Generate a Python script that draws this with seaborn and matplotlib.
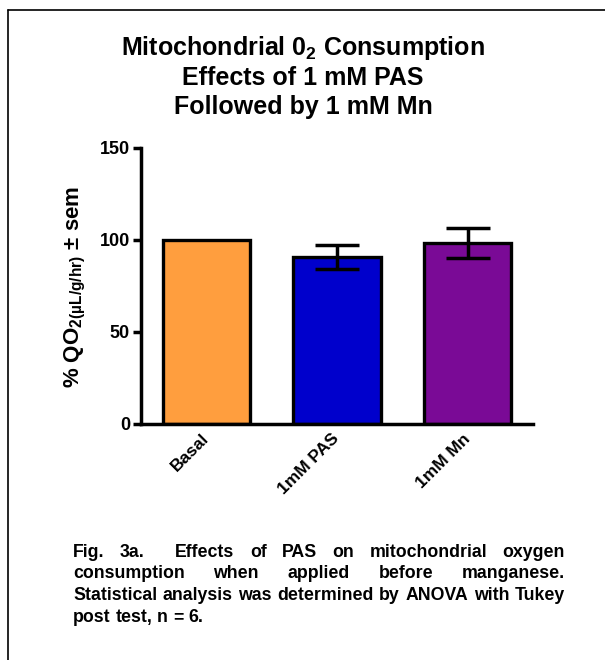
import matplotlib
matplotlib.use('Agg')
import matplotlib.pyplot as plt
import seaborn as sns
import pandas as pd
from matplotlib.lines import Line2D
from matplotlib.transforms import IdentityTransform

# ---------------- data ----------------
categories = ['Basal', '1mM PAS', '1mM Mn']
means = [100.0, 90.8, 98.3]
sems = [0.0, 6.5, 8.2]
colors = ['#FF9E3E', '#0000CC', '#7A0A96']
yticks = [0, 50, 100, 150]
title_lines = ['Mitochondrial 0$_{2}$ Consumption',
               'Effects of 1 mM PAS',
               'Followed by 1 mM Mn']
ylabel = '% QO$_{2(µL/g/hr)}$ ± sem'
caption_lines = ['Fig. 3a.  Effects of PAS on mitochondrial oxygen',
                 'consumption when applied before manganese.',
                 'Statistical analysis was determined by ANOVA with Tukey',
                 'post test, n = 6.']
caption_justify = [True, True, True, False]

# ---------------- style ----------------
sns.set_theme(style='white')
plt.rcParams['font.family'] = ['Liberation Sans', 'DejaVu Sans']
plt.rcParams['font.weight'] = 'bold'
plt.rcParams['text.color'] = 'black'
plt.rcParams['axes.labelcolor'] = 'black'
plt.rcParams['xtick.color'] = 'black'
plt.rcParams['ytick.color'] = 'black'
plt.rcParams['mathtext.fontset'] = 'custom'
plt.rcParams['mathtext.rm'] = 'Liberation Sans:bold'
plt.rcParams['mathtext.it'] = 'Liberation Sans:bold'
plt.rcParams['mathtext.bf'] = 'Liberation Sans:bold'
plt.rcParams['mathtext.sf'] = 'Liberation Sans:bold'

W, H, DPI = 605, 660, 100
fig = plt.figure(figsize=(W / DPI, H / DPI), dpi=DPI)
fig.patch.set_facecolor('white')

def px(x, y):
    return x, H - y

# axes placement (pixels in image coords)
ax_l, ax_r, ax_t, ax_b = 141, 533, 148, 424
ax = fig.add_axes([ax_l / W, 1 - ax_b / H, (ax_r - ax_l) / W, (ax_b - ax_t) / H])

df = pd.DataFrame({'cat': categories, 'val': means, 'sem': sems})
sns.barplot(data=df, x='cat', y='val', hue='cat', palette=colors, legend=False,
            edgecolor='black', linewidth=2.4, width=0.67, saturation=1, ax=ax)
sub = df[df['sem'] > 0]
ax.errorbar(x=sub.index.values, y=sub['val'], yerr=sub['sem'], fmt='none',
            ecolor='black', elinewidth=2.5, capsize=16, capthick=2.5, zorder=5)

ax.set_xlim(-0.5, 2.5)
ax.set_ylim(0, 150)
ax.set_yticks(yticks)
ax.set_yticklabels([str(v) for v in yticks], fontsize=13, fontweight='bold')
ax.set_xlabel('')
ax.set_ylabel('')
ax.set_xticks(range(len(categories)))
ax.set_xticklabels(categories, rotation=45, ha='right', va='center',
                   rotation_mode='anchor', fontsize=12.5, fontweight='bold')
ax.tick_params(axis='x', length=0, pad=9)
ax.tick_params(axis='y', length=6, width=2.5, pad=2, left=True, color='black')
for s in ['top', 'right']:
    ax.spines[s].set_visible(False)
for s in ['left', 'bottom']:
    ax.spines[s].set_linewidth(2.5)
    ax.spines[s].set_color('black')
ax.spines['left'].set_capstyle('projecting')
ax.set_facecolor('white')

# y label
fig.text(*px(75, 287), ylabel, rotation=90, ha='center', va='center',
         fontsize=16, fontweight='bold', transform=IdentityTransform())

# title
for line, yb in zip(title_lines, [55, 85, 114]):
    fig.text(*px(303, yb), line, ha='center', va='baseline', fontsize=18,
             fontweight='bold', transform=IdentityTransform())

# border (only top and left visible in the frame)
fig.add_artist(Line2D([8 / W, 8 / W], [0, 1 - 10 / H], color='black', lw=1.2,
                      transform=fig.transFigure))
fig.add_artist(Line2D([8 / W, 1], [1 - 10 / H, 1 - 10 / H], color='black', lw=1.2,
                      transform=fig.transFigure))

# caption, justified; font size chosen so the fullest line fits the text block
fig.canvas.draw()
renderer = fig.canvas.get_renderer()
cx0, cx1 = 73, 565
probe = fig.text(0, 0, caption_lines[2], fontsize=10, fontweight='bold')
cap_fs = 10 * (cx1 - cx0) / probe.get_window_extent(renderer).width * 0.985
probe.remove()
for line, yb, just in zip(caption_lines, [557, 578, 600, 622], caption_justify):
    tokens = line.split(' ')
    words, weights = [], []
    pending = 0
    for t in tokens:
        if t == '':
            pending += 1
            continue
        if words:
            weights.append(1 + pending)
        pending = 0
        words.append(t)
    texts = [fig.text(*px(0, yb), w, ha='left', va='baseline', fontsize=cap_fs,
                      fontweight='bold', transform=IdentityTransform()) for w in words]
    widths = [t.get_window_extent(renderer).width for t in texts]
    if just and len(words) > 1:
        gap = (cx1 - cx0 - sum(widths)) / sum(weights)
    else:
        sp = fig.text(0, 0, 'a a', fontsize=cap_fs, fontweight='bold')
        spw = sp.get_window_extent(renderer).width
        sp2 = fig.text(0, 0, 'aa', fontsize=cap_fs, fontweight='bold')
        gap = spw - sp2.get_window_extent(renderer).width
        sp.remove(); sp2.remove()
    x = cx0
    for i, (t, w) in enumerate(zip(texts, widths)):
        t.set_position(px(x, yb))
        x += w + (gap * weights[i] if i < len(weights) else 0)

fig.savefig('out.png', dpi=DPI, facecolor='white')
